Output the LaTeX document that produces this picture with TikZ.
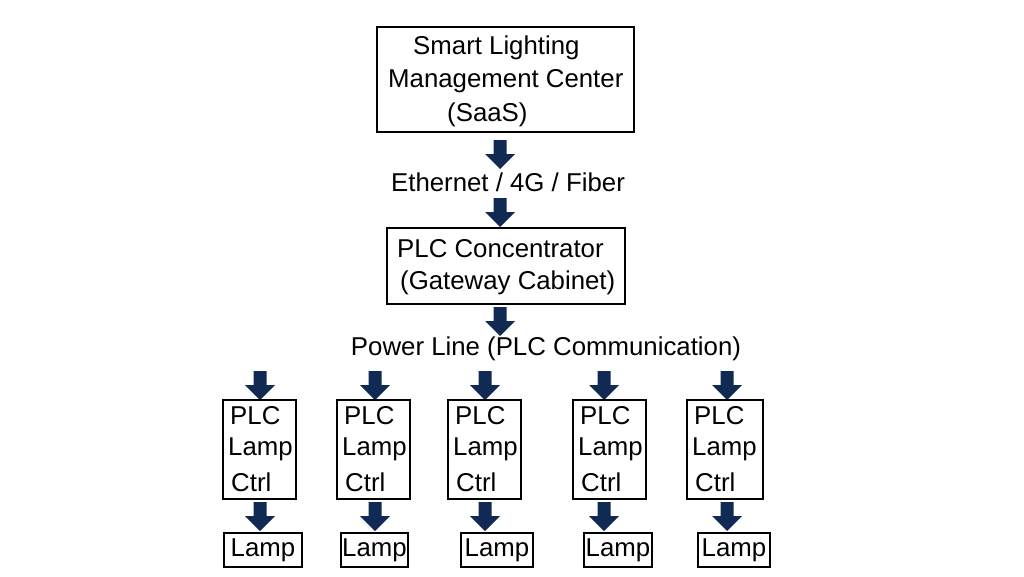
\documentclass[tikz,border=0pt]{standalone}
\usepackage{fontspec}
\setmainfont{Liberation Sans}
\begin{document}
\begin{tikzpicture}[x=1pt,y=-1pt,
  box/.style={draw,line width=2.8pt,inner sep=0pt},
  txt/.style={inner sep=0pt,font=\fontsize{25.8}{30}\selectfont},
  barrow/.pic={\fill[fill={rgb,255:red,16;green,42;blue,84}] (-6.5,0)--(6.5,0)--(6.5,14)--(15,14)--(0,29)--(-15,14)--(-6.5,14)--cycle;}]
\useasboundingbox (0,0) rectangle (1024,576);
% top box
\node[box,minimum width=257,minimum height=105] (mc) at (505.5,79.5) {};
\node[txt,anchor=west] (t1) at (413,48) {Smart Lighting};
\node[txt,anchor=west] (t2) at (388,81) {Management Center};
\node[txt,anchor=west] (t3) at (447,115) {(SaaS)};
\pic at (500,140) {barrow};
\node[txt] (eth) at (508,182) {Ethernet / 4G / Fiber};
\pic at (500,198) {barrow};
\node[box,minimum width=238,minimum height=76] (con) at (506,266) {};
\node[txt,anchor=west] (c1) at (397,249) {PLC Concentrator};
\node[txt,anchor=west] (c2) at (400,283) {(Gateway Cabinet)};
\pic at (500,307) {barrow};
\node[txt] (pl) at (546,349) {Power Line (PLC Communication)};
\foreach \i/\ax/\cl/\cr/\ll/\lr in {1/260/223/296/224/302, 2/375/337/410/341/408, 3/485/448/521/461/533, 4/604/573/646/584/652, 5/727/687/763/698/770}{
  \pic at (\ax,371) {barrow};
  \node[box,minimum width={\cr-\cl},minimum height=99] (ctrl\i) at ({(\cl+\cr)/2},449.5) {};
  \node[txt,anchor=west] (p\i) at ({\cl+7},416) {PLC};
  \node[txt,anchor=west] (q\i) at ({\cl+5},449) {Lamp};
  \node[txt,anchor=west] (r\i) at ({\cl+8},482) {Ctrl};
  \pic at (\ax,502) {barrow};
  \node[box,minimum width={\lr-\ll},minimum height=34] (lamp\i) at ({(\ll+\lr)/2},550) {};
  \node[txt] (l\i) at ({(\ll+\lr)/2},550) {Lamp};
}
\end{tikzpicture}
\end{document}
